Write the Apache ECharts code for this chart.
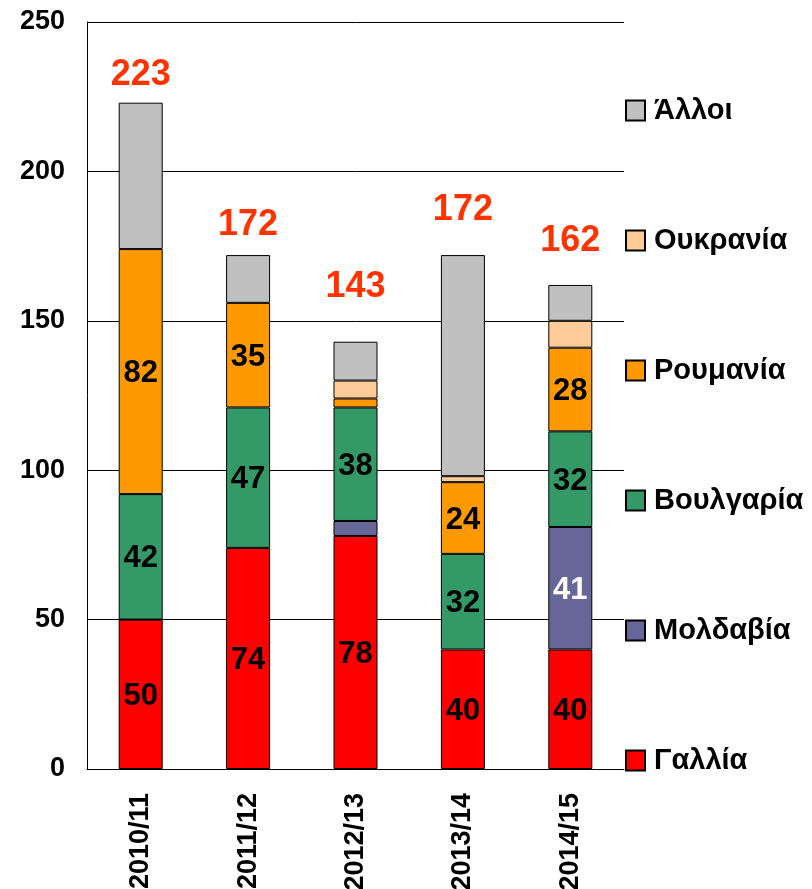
<!DOCTYPE html>
<html>
<head>
<meta charset="utf-8">
<title>chart</title>
<script src="https://cdn.jsdelivr.net/npm/echarts@6/dist/echarts.min.js"></script>
<style>
  html, body { margin: 0; padding: 0; background: #fff; }
  #main { width: 812px; height: 889px; }
</style>
</head>
<body>
<div id="main"></div>
<script>
// categories (seasons)
var years = ['2010/11', '2011/12', '2012/13', '2013/14', '2014/15'];

// values per origin, bottom to top of each stack
var gallia    = [50, 74, 78, 40, 40];
var moldavia  = [0, 0, 5, 0, 41];
var voulgaria = [42, 47, 38, 32, 32];
var roumania  = [82, 35, 3, 24, 28];
var oukrania  = [0, 0, 6, 2, 9];
var alloi     = [49, 16, 13, 74, 12];
var totals    = [223, 172, 143, 172, 162];

var yTicks = [0, 50, 100, 150, 200, 250];

var names  = ['Γαλλία', 'Μολδαβία', 'Βουλγαρία', 'Ρουμανία', 'Ουκρανία', 'Άλλοι'];
var colors = ['#ff0000', '#666699', '#339966', '#ff9900', '#ffcc99', '#c0c0c0'];
var values = [gallia, moldavia, voulgaria, roumania, oukrania, alloi];
// gap (px) between bar top and the total label, as placed in the original
var totalGap = [10, 12, 37, 27, 26];

var font = '"Liberation Sans", Arial, sans-serif';

var series = values.map(function(vals, i) {
  var top = i === values.length - 1;
  var s = {
    name: names[i],
    type: 'bar',
    stack: 'total',
    barWidth: 44,
    data: vals.map(function(v, j) {
      if (v === 0) return '-';
      if (top) return { value: v, label: { distance: totalGap[j] } };
      return v;
    }),
    itemStyle: { color: colors[i], borderColor: '#000', borderWidth: 1 },
    label: {
      show: true,
      position: 'inside',
      offset: [0, 2],
      fontFamily: font,
      fontWeight: 'bold',
      fontSize: 31,
      color: i === 1 ? '#fff' : '#000',
      formatter: function(p) { return p.value >= 20 ? p.value : ''; }
    },
    emphasis: { disabled: true }
  };
  if (top) {
    s.label = {
      show: true,
      position: 'top',
      fontFamily: font,
      fontWeight: 'bold',
      fontSize: 36,
      color: '#ff3300',
      formatter: function(p) { return totals[p.dataIndex]; }
    };
  }
  return s;
});

var myChart = echarts.init(document.getElementById('main'));
myChart.setOption({
  animation: false,
  textStyle: { fontFamily: font },
  grid: { left: 87, right: 188, top: 22, bottom: 120, containLabel: false, outerBoundsMode: 'none' },
  legend: {
    orient: 'vertical',
    left: 620,
    top: 91,
    itemWidth: 19,
    itemHeight: 20,
    itemGap: 101,
    icon: 'rect',
    data: names.slice().reverse(),
    selectedMode: false,
    textStyle: {
      fontFamily: font,
      fontWeight: 'bold',
      fontSize: 29,
      color: '#000',
      padding: [0, 0, 0, 4]
    }
  },
  xAxis: {
    type: 'category',
    data: years,
    axisLine: { lineStyle: { color: '#000', width: 1 } },
    axisTick: { show: false },
    axisLabel: {
      rotate: 90,
      margin: 24,
      interval: 0,
      fontFamily: font,
      fontWeight: 'bold',
      fontSize: 27,
      color: '#000'
    }
  },
  yAxis: {
    type: 'value',
    min: yTicks[0],
    max: yTicks[yTicks.length - 1],
    interval: 50,
    axisLine: { show: true, lineStyle: { color: '#000', width: 1 } },
    axisTick: { show: false },
    splitLine: { lineStyle: { color: '#000', width: 1 } },
    axisLabel: {
      margin: 22,
      fontFamily: font,
      fontWeight: 'bold',
      fontSize: 27,
      color: '#000'
    }
  },
  series: series
});
</script>
</body>
</html>
